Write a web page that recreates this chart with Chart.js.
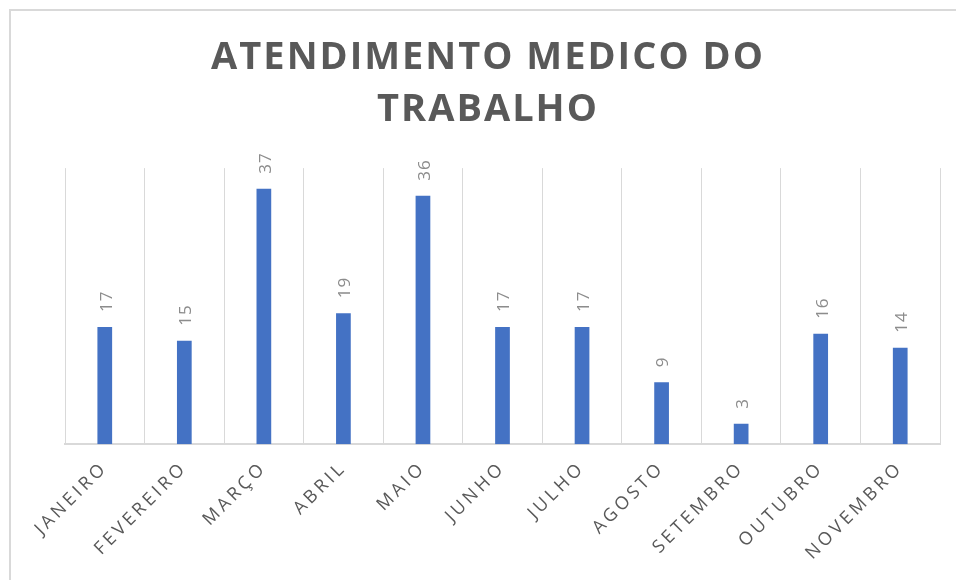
<!DOCTYPE html>
<html>
<head>
<meta charset="utf-8">
<title>Atendimento Medico do Trabalho</title>
<script src="https://cdn.jsdelivr.net/npm/chart.js@4.4.0/dist/chart.umd.min.js"></script>
<style>
    html, body { margin: 0; padding: 0; background: #ffffff; overflow: hidden; }
    #wrap { position: relative; width: 956px; height: 580px; }
    #frame { position: absolute; left: 9px; top: 9px; width: 980px; height: 600px;
             border-left: 2px solid #d9d9d9; border-top: 2px solid #d9d9d9; }
    #chart { position: absolute; left: 0; top: 0; }
</style>
</head>
<body>
<div id="wrap">
    <div id="frame"></div>
    <canvas id="chart" width="956" height="580"></canvas>
</div>
<script>
// Chart data
const titleLines = ['ATENDIMENTO MEDICO DO', 'TRABALHO'];
const months = ['JANEIRO', 'FEVEREIRO', 'MARÇO', 'ABRIL', 'MAIO', 'JUNHO',
                'JULHO', 'AGOSTO', 'SETEMBRO', 'OUTUBRO', 'NOVEMBRO'];
const atendimentos = [17, 15, 37, 19, 36, 17, 17, 9, 3, 16, 14];

// Excel-like spaced lettering: title first, axis labels (drawn after datasets) wider
const letterSpacingPlugin = {
    id: 'letterSpacing',
    beforeLayout(chart) { chart.ctx.letterSpacing = '3.5px'; },
    beforeDraw(chart) { chart.ctx.letterSpacing = '2px'; },
    afterDatasetsDraw(chart) { chart.ctx.letterSpacing = '3.5px'; },
    afterDraw(chart) { chart.ctx.letterSpacing = '0px'; }
};

// Vertical value labels above each bar
const barValuesPlugin = {
    id: 'barValues',
    afterDatasetsDraw(chart) {
        const ctx = chart.ctx;
        const meta = chart.getDatasetMeta(0);
        const values = chart.data.datasets[0].data;
        ctx.save();
        ctx.letterSpacing = '1px';
        ctx.font = '17px "Open Sans"';
        ctx.fillStyle = '#8c8c8c';
        ctx.textAlign = 'left';
        ctx.textBaseline = 'middle';
        meta.data.forEach((bar, i) => {
            ctx.save();
            ctx.translate(bar.x + 2, bar.y - 15);
            ctx.rotate(-Math.PI / 2);
            ctx.fillText(String(values[i]), 0, 0);
            ctx.restore();
        });
        ctx.restore();
    }
};

const ctx = document.getElementById('chart').getContext('2d');
new Chart(ctx, {
    type: 'bar',
    data: {
        labels: months,
        datasets: [{
            data: atendimentos,
            backgroundColor: '#4472c4',
            borderWidth: 0,
            categoryPercentage: 1,
            barPercentage: 0.185
        }]
    },
    options: {
        responsive: false,
        animation: false,
        layout: {
            padding: { left: 36, right: 16, top: 0, bottom: 3 }
        },
        plugins: {
            legend: { display: false },
            tooltip: { enabled: false },
            title: {
                display: true,
                text: titleLines,
                color: '#595959',
                font: { family: 'Open Sans', size: 38, weight: 'bold', lineHeight: 1.37 },
                padding: { top: 32, bottom: 32 }
            }
        },
        scales: {
            x: {
                grid: {
                    color: '#d9d9d9',
                    lineWidth: 1,
                    drawTicks: false,
                    offset: true
                },
                border: { color: '#d9d9d9', width: 2 },
                ticks: {
                    color: '#595959',
                    font: { family: 'Open Sans', size: 18 },
                    minRotation: 45,
                    maxRotation: 45,
                    padding: 13,
                    z: 1
                }
            },
            y: {
                min: 0,
                max: 40,
                grid: { display: false },
                border: { display: false },
                ticks: { display: false },
                // blank strip so the plot starts where the original does
                afterFit(scale) { scale.width = 29; }
            }
        }
    },
    plugins: [letterSpacingPlugin, barValuesPlugin]
});
</script>
</body>
</html>
